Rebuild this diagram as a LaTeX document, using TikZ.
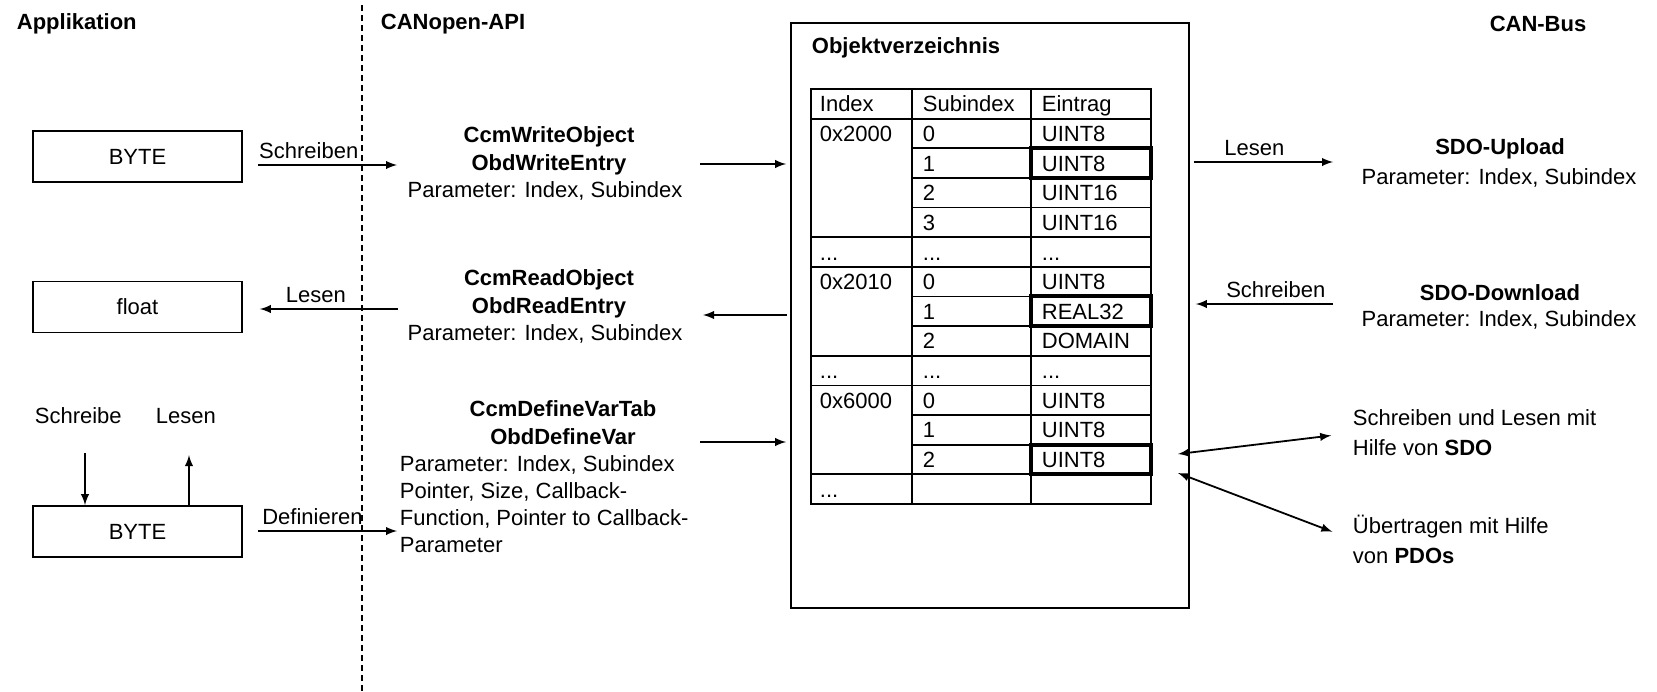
\documentclass[tikz,border=0pt]{standalone}
\usepackage{fontspec}
\setmainfont{Liberation Sans}
\newcommand{\tdots}{...}

\begin{document}
\begin{tikzpicture}[x=0.5pt, y=-0.5pt, line width=0.9pt, >=latex,
        font=\fontsize{11}{13.5}\selectfont,
        head/.style={font=\fontsize{11}{14}\selectfont\bfseries, inner sep=0pt, align=center},
        plain/.style={inner sep=0pt, align=left},
        box/.style={draw, minimum width=104.5pt, minimum height=25.5pt, inner sep=0pt},
        cell/.style={anchor=west, inner sep=0pt, text height=8pt, text depth=0pt},
        lbl/.style={inner xsep=0pt, inner ysep=2.5pt}]
            \useasboundingbox (0,0) rectangle (1657,691);

            % Headers
            \node [head, anchor=west] (app) at (16,24) {Applikation};
            \node [head, anchor=west] (api) at (380,24) {CANopen-API};
            \node [head] (bus) at (1538,24) {CAN-Bus};
            \draw [dash pattern=on 3pt off 2pt] (362,5) -- (362,691);

            % Applikation
            \node [box] (byteA) at (137.5,156.5) {BYTE};
            \node [box] (floatbox) at (137.5,307) {float};
            \node [box] (byteB) at (137.5,531.5) {BYTE};
            \node [plain, anchor=west] (schreibe) at (34,416) {Schreibe};
            \node [plain, anchor=west] (lesen) at (155,416) {Lesen};
            \draw [->] ([shift={(-52.5,-52)}]byteB.north) -- ([shift={(-52.5,0)}]byteB.north);
            \draw [->] ([shift={(51.5,0)}]byteB.north) -- ([shift={(51.5,-50)}]byteB.north);

            % CANopen-API
            \node [head] (writetitle) at (549,151) {CcmWriteObject\\ObdWriteEntry};
            \node [plain] (writepar) at (545,191) {Parameter: Index, Subindex};
            \node [head] (readtitle) at (549,294) {CcmReadObject\\ObdReadEntry};
            \node [plain] (readpar) at (545,334) {Parameter: Index, Subindex};
            \node [head] (deftitle) at (563,423) {CcmDefineVarTab\\ObdDefineVar};
            \node [plain, anchor=north west] (defpar) at (399,455)
                {Parameter: Index, Subindex\\Pointer, Size, Callback-\\Function, Pointer to Callback-\\Parameter};

            \coordinate (wIn) at (397,165);
            \coordinate (rOut) at (398,309);
            \coordinate (dIn) at (397,531);
            \draw [->, shorten <=7.5pt] (byteA.east |- wIn) -- (wIn) node [lbl, pos=0.1, above right] {Schreiben};
            \draw [->, shorten >=8.5pt] (rOut) -- (floatbox.east |- rOut) node [lbl, pos=0.53, above] {Lesen};
            \draw [->, shorten <=7.5pt] (byteB.east |- dIn) -- (dIn) node [lbl, pos=0.12, above right] {Definieren};

            % Objektverzeichnis
            \node [draw, minimum width=199pt, minimum height=292.5pt, inner sep=0pt] (objbox) at (990,315.5) {};
            \node [head, anchor=west] (objtitle) at (811,48) {Objektverzeichnis};
            \draw (811,89) rectangle (1151,504);
            \draw (912,89) -- (912,504);
            \draw (1031,89) -- (1031,504);
            \foreach \r in {1,5,6,9,10,13}
                \draw (811,89+\r*29.64) -- (1151,89+\r*29.64);
            \foreach \r in {2,3,4,7,8,11,12}
                \draw (912,89+\r*29.64) -- (1151,89+\r*29.64);
            \foreach \r in {2,7,12}
                \draw [line width=2pt] (1031,89+\r*29.64) rectangle (1151,118.64+\r*29.64);
            \foreach \r/\a/\b/\c in {0/Index/Subindex/Eintrag, 1/0x2000/0/UINT8, 2//1/UINT8, 3//2/UINT16,
                    4//3/UINT16, 5/\tdots/\tdots/\tdots, 6/0x2010/0/UINT8, 7//1/REAL32, 8//2/DOMAIN,
                    9/\tdots/\tdots/\tdots, 10/0x6000/0/UINT8, 11//1/UINT8, 12//2/UINT8, 13/\tdots//}
            {
                \node [cell] (idx\r) at (819,103.82+\r*29.64) {\a};
                \node [cell] (sub\r) at (922,103.82+\r*29.64) {\b};
                \node [cell] (val\r) at (1041,103.82+\r*29.64) {\c};
            }

            \coordinate (wOut) at (700,164);
            \coordinate (rIn) at (703,315);
            \coordinate (dOut) at (700,442);
            \draw [->, shorten >=2pt] (wOut) -- (objbox.west |- wOut);
            \draw [->, shorten <=1.5pt] (objbox.west |- rIn) -- (rIn);
            \draw [->, shorten >=2pt] (dOut) -- (objbox.west |- dOut);

            % CAN-Bus
            \node [head] (sdoup) at (1500,149) {SDO-Upload};
            \node [plain] (uppar) at (1499,178) {Parameter: Index, Subindex};
            \node [head] (sdodown) at (1500,293) {SDO-Download};
            \node [plain] (downpar) at (1499,320) {Parameter: Index, Subindex};
            \node [plain, anchor=north west, font=\fontsize{11}{15}\selectfont] (sdotext) at (1352,409)
                {Schreiben und Lesen mit\\Hilfe von \textbf{SDO}};
            \node [plain, anchor=north west, font=\fontsize{11}{15}\selectfont] (pdotext) at (1352,514)
                {Übertragen mit Hilfe\\von \textbf{PDOs}};

            \coordinate (upIn) at (1333,162);
            \coordinate (downOut) at (1333,304);
            \draw [->, shorten <=2pt] (objbox.east |- upIn) -- (upIn) node [lbl, pos=0.45, above] {Lesen};
            \draw [->, shorten >=3pt] (downOut) -- (objbox.east |- downOut) node [lbl, pos=0.4, above] {Schreiben};

            \coordinate (sdoStart) at (1178,454);
            \coordinate (pdoStart) at (1178,473);
            \draw [<->, shorten >=10.5pt] (sdoStart) -- (sdotext.west);
            \draw [<->, shorten >=10.5pt] (pdoStart) -- (pdotext.west);
        \end{tikzpicture}
\end{document}
